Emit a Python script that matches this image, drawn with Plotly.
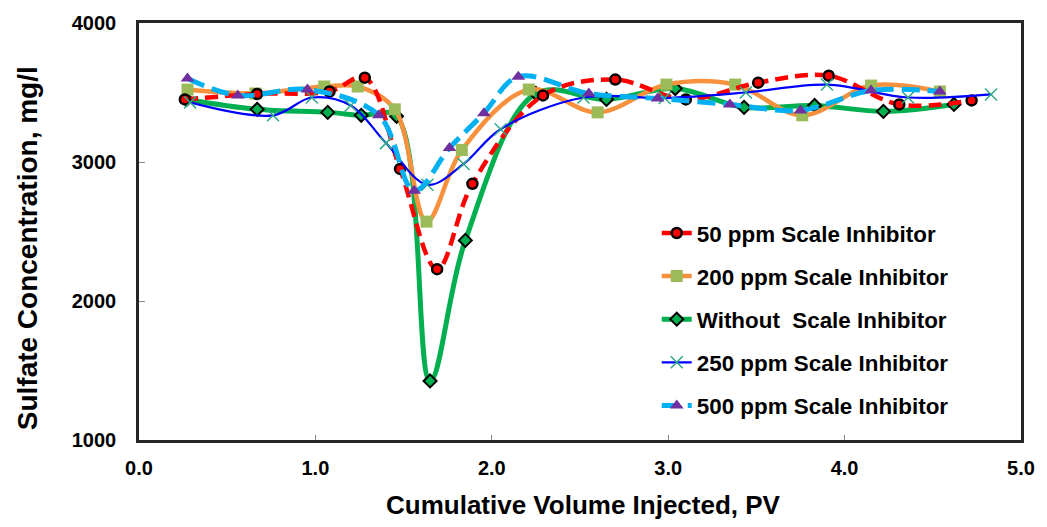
import plotly.graph_objects as go

# ---- data ----
x_50 = [0.26, 0.67, 1.08, 1.28, 1.48, 1.69, 1.89, 2.29, 2.70, 3.10, 3.51, 3.91, 4.31, 4.72]
y_50 = [3450, 3490, 3507, 3607, 2950, 2229, 2843, 3479, 3593, 3450, 3571, 3621, 3414, 3443]

x_200 = [0.275, 0.66, 1.05, 1.24, 1.45, 1.63, 1.83, 2.21, 2.60, 2.99, 3.38, 3.76, 4.15, 4.54]
y_200 = [3521, 3493, 3543, 3543, 3379, 2571, 3086, 3521, 3357, 3557, 3557, 3336, 3550, 3507]

x_wo = [0.27, 0.67, 1.07, 1.26, 1.46, 1.65, 1.85, 2.25, 2.65, 3.04, 3.43, 3.83, 4.22, 4.62]
y_wo = [3450, 3379, 3357, 3336, 3329, 1425, 2436, 3493, 3450, 3529, 3393, 3407, 3364, 3414]

x_250 = [0.29, 0.76, 0.98, 1.20, 1.40, 1.635, 1.84, 2.05, 2.52, 2.98, 3.44, 3.90, 4.36, 4.83]
y_250 = [3429, 3336, 3464, 3407, 3136, 2836, 2986, 3236, 3464, 3460, 3500, 3557, 3464, 3486]

x_500 = [0.275, 0.56, 0.955, 1.36, 1.56, 1.76, 1.955, 2.15, 2.55, 2.94, 3.35, 3.75, 4.15, 4.54]
y_500 = [3600, 3479, 3521, 3336, 2793, 3100, 3350, 3614, 3493, 3457, 3414, 3371, 3514, 3507]

names = ["50 ppm Scale Inhibitor", "200 ppm Scale Inhibitor", "Without  Scale Inhibitor",
         "250 ppm Scale Inhibitor", "500 ppm Scale Inhibitor"]

x_ticks = [0, 1, 2, 3, 4, 5]
x_tick_labels = ["0.0", "1.0", "2.0", "3.0", "4.0", "5.0"]
y_ticks = [1000, 2000, 3000, 4000]

x_title = "Cumulative Volume Injected, PV"
y_title = "Sulfate Concentration, mg/l"

FONT = "Liberation Sans, Arial, sans-serif"

fig = go.Figure()

# drawing order: green, orange, red, blue, cyan ; legend order via legendrank
fig.add_trace(go.Scatter(
    x=x_wo, y=y_wo, name=names[2], mode="lines+markers", legendrank=3, legendgroup="c",
    line=dict(color="#00B050", width=5, shape="spline", smoothing=1),
    marker=dict(symbol="diamond", size=10, color="#00B050", line=dict(color="black", width=2)),
))
fig.add_trace(go.Scatter(
    x=x_200, y=y_200, name=names[1], mode="lines+markers", legendrank=2, legendgroup="b",
    line=dict(color="#F7913D", width=4.5, shape="spline", smoothing=1),
    marker=dict(symbol="square", size=12, color="#9BBB59", line=dict(width=0)),
))
fig.add_trace(go.Scatter(
    x=x_50, y=y_50, name=names[0], mode="lines+markers", legendrank=1, legendgroup="a",
    line=dict(color="#FF0000", width=4.5, shape="spline", smoothing=1, dash="13px,7px"),
    marker=dict(symbol="circle", size=10, color="#FF0000", line=dict(color="black", width=2.5)),
))
fig.add_trace(go.Scatter(
    x=x_250, y=y_250, name=names[3], mode="lines+markers", legendrank=4, legendgroup="d",
    line=dict(color="#0000FF", width=2.2, shape="spline", smoothing=1),
    marker=dict(symbol="x-thin", size=12, color="#2FA98A", line=dict(color="#2FA98A", width=1.5)),
))
fig.add_trace(go.Scatter(
    x=x_500, y=y_500, name=names[4], mode="lines+markers", legendrank=5, legendgroup="e",
    line=dict(color="#00B0F0", width=5, shape="spline", smoothing=1, dash="18px,8px"),
    marker=dict(symbol="triangle-up", size=12, color="#7030A0", line=dict(width=0)),
))

fig.update_layout(
    width=1047, height=527,
    margin=dict(l=139, r=17, t=20, b=87),
    paper_bgcolor="white", plot_bgcolor="white",
    font=dict(family=FONT, color="black"),
    showlegend=True,
    legend=dict(
        x=0.587, y=0.547, xanchor="left", yanchor="top",
        bgcolor="rgba(0,0,0,0)", borderwidth=0,
        font=dict(family=FONT, size=22.4, color="black", weight="bold"),
        tracegroupgap=11,
        itemwidth=30,
    ),
    xaxis=dict(
        range=[0, 5], tickvals=x_ticks, ticktext=x_tick_labels,
        showgrid=False, zeroline=False,
        showline=True, linecolor="#262626", linewidth=2.5, mirror=True,
        ticks="inside", ticklen=5, tickcolor="#888888", tickwidth=1,
        tickfont=dict(family=FONT, size=20, color="black", weight="bold"),
        ticklabelstandoff=8,
    ),
    yaxis=dict(
        range=[1000, 4000], tickvals=y_ticks,
        showgrid=False, zeroline=False,
        showline=True, linecolor="#262626", linewidth=2.5, mirror=True,
        ticks="inside", ticklen=6, tickcolor="#888888", tickwidth=1,
        tickfont=dict(family=FONT, size=20, color="black", weight="bold"),
        ticklabelstandoff=16,
    ),
    annotations=[
        dict(text=x_title, xref="paper", yref="paper", x=0.504, y=-0.155,
             xanchor="center", yanchor="middle", showarrow=False,
             font=dict(family=FONT, size=26, color="black", weight="bold")),
        dict(text=y_title, xref="paper", yref="paper", x=-0.126, y=0.4595,
             xanchor="center", yanchor="middle", showarrow=False, textangle=-90,
             font=dict(family=FONT, size=28, color="black", weight="bold")),
    ],
)

fig.write_html("out.html")
